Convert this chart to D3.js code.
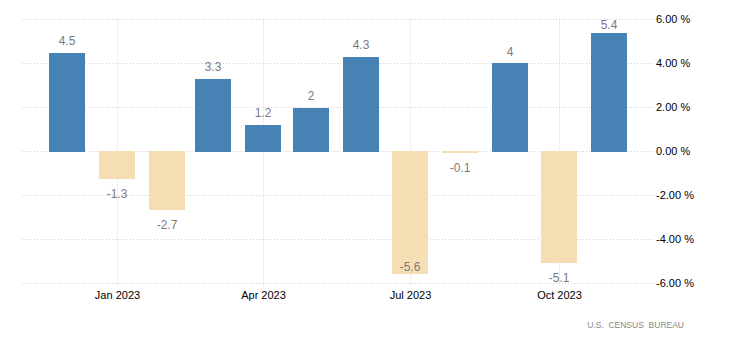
<!DOCTYPE html>
<html>
<head>
<meta charset="utf-8">
<script src="https://cdn.jsdelivr.net/npm/d3@7"></script>
<style>
  html, body { margin: 0; padding: 0; background: #fff; }
  svg { display: block; font-family: "Liberation Sans", Arial, sans-serif; }
</style>
</head>
<body>
<svg id="chart" width="750" height="349"></svg>
<script>
// Data
const months = ["2022-12", "2023-01", "2023-02", "2023-03", "2023-04", "2023-05",
                "2023-06", "2023-07", "2023-08", "2023-09", "2023-10", "2023-11"];
const values = [4.5, -1.3, -2.7, 3.3, 1.2, 2, 4.3, -5.6, -0.1, 4, -5.1, 5.4];
const yTicks = [6, 4, 2, 0, -2, -4, -6];
const xTickMonths = ["2023-01", "2023-04", "2023-07", "2023-10"];
const source = "U.S.  CENSUS  BUREAU";

const parse = d3.timeParse("%Y-%m");
const data = months.map((m, i) => ({ date: parse(m), value: values[i] }));
const hyphen = s => s.replace(/\u2212/g, "-");

const svg = d3.select("#chart");

const x = d3.scaleTime()
  .domain([parse("2022-12"), parse("2023-11")])
  .range([67, 609]);
const y = d3.scaleLinear().domain([-6, 6]).range([283.5, 19.5]);

const gridLeft = 22, gridRight = 654;
const barW = 36;

// horizontal grid
svg.append("g").selectAll("line").data(yTicks).join("line")
  .attr("x1", gridLeft).attr("x2", gridRight)
  .attr("y1", d => y(d)).attr("y2", d => y(d))
  .attr("stroke", "#cfcfcf").attr("stroke-width", 1)
  .attr("stroke-dasharray", "1,2");

// vertical grid
const xTickDates = xTickMonths.map(parse);
svg.append("g").selectAll("line").data(xTickDates).join("line")
  .attr("x1", d => Math.round(x(d)) + 0.5).attr("x2", d => Math.round(x(d)) + 0.5)
  .attr("y1", 19.5).attr("y2", 287)
  .attr("stroke", "#cfcfcf").attr("stroke-width", 1)
  .attr("stroke-dasharray", "1,2");

// bars
svg.append("g").selectAll("rect").data(data).join("rect")
  .attr("x", d => Math.round(x(d.date)) - barW / 2)
  .attr("width", barW)
  .attr("y", d => d.value >= 0 ? Math.round(y(d.value)) : 151)
  .attr("height", d => d.value >= 0 ? 152 - Math.round(y(d.value)) : Math.max(2, Math.round(y(d.value)) - 152))
  .attr("fill", d => d.value >= 0 ? "#4682b4" : "#f5deb3");

// value labels
svg.append("g").selectAll("text").data(data).join("text")
  .attr("x", d => Math.round(x(d.date)))
  .attr("y", d => {
    if (d.value >= 0) return Math.max(y(d.value) - 8, 29);
    const b = y(d.value) + 18;
    return b > 285 ? y(d.value) - 4 : b;
  })
  .attr("text-anchor", "middle")
  .attr("font-size", 12)
  .attr("fill", "#7a7a80")
  .text(d => hyphen(d3.format("")(d.value)));

// x tick labels
svg.append("g").selectAll("text").data(xTickDates).join("text")
  .attr("x", d => Math.round(x(d)) + 0.5)
  .attr("y", 298.5)
  .attr("text-anchor", "middle")
  .attr("font-size", 11)
  .attr("fill", "#000")
  .text(d3.timeFormat("%b %Y"));

// y tick labels
svg.append("g").selectAll("text").data(yTicks).join("text")
  .attr("x", 656)
  .attr("y", d => y(d))
  .attr("dy", "0.35em")
  .attr("font-size", 11)
  .attr("fill", "#000")
  .text(d => hyphen(d3.format(".2f")(d)) + " %");

// source
svg.append("text")
  .attr("x", 684).attr("y", 328)
  .attr("text-anchor", "end")
  .attr("font-size", 8.5)
  .attr("fill", "#888")
  .style("white-space", "pre")
  .text(source);
</script>
</body>
</html>
